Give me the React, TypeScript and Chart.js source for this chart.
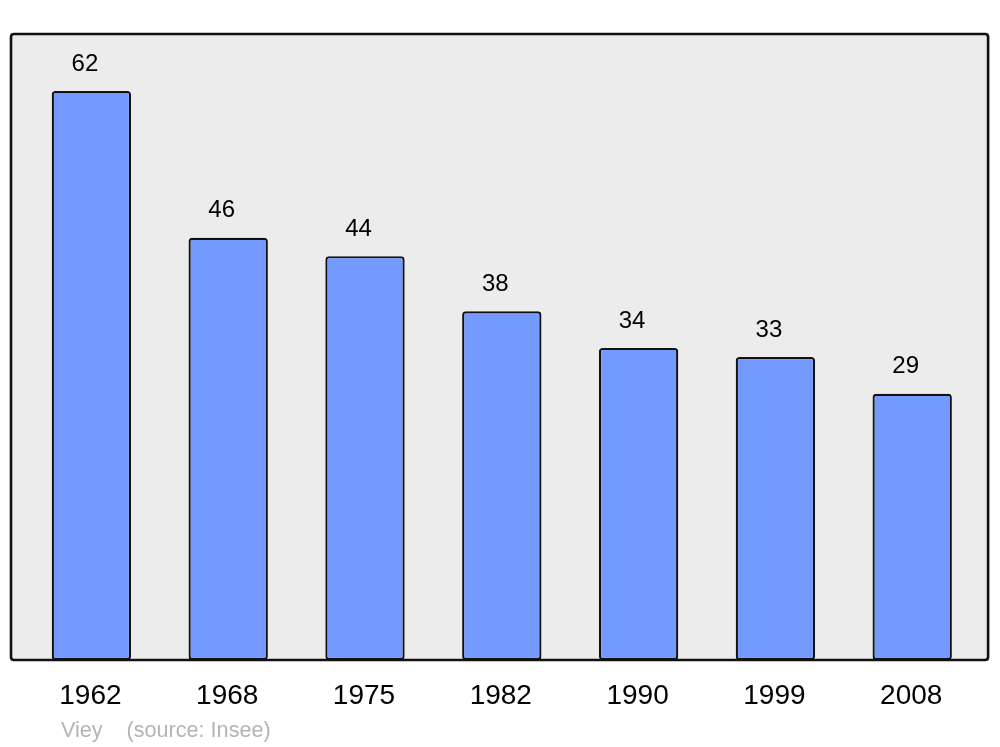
import React, { useEffect, useRef } from "react";
import { Chart, registerables } from "chart.js";

Chart.register(...registerables);

const years = ["1962", "1968", "1975", "1982", "1990", "1999", "2008"];
const population = [62, 46, 44, 38, 34, 33, 29];
const sourceText = "Viey    (source: Insee)";

const FONT = "'Liberation Sans', Arial, sans-serif";

function boxPath(ctx: any, left: number, top: number, right: number, bottom: number, r: number) {
  ctx.beginPath();
  ctx.moveTo(left + r, top);
  ctx.lineTo(right - r, top);
  ctx.quadraticCurveTo(right, top, right, top + r);
  ctx.lineTo(right, bottom - r);
  ctx.quadraticCurveTo(right, bottom, right - r, bottom);
  ctx.lineTo(left + r, bottom);
  ctx.quadraticCurveTo(left, bottom, left, bottom - r);
  ctx.lineTo(left, top + r);
  ctx.quadraticCurveTo(left, top, left + r, top);
  ctx.closePath();
}

const decorPlugin = {
  id: "decor",
  beforeDraw(chart: any) {
    const { ctx, chartArea } = chart;
    ctx.save();
    boxPath(ctx, chartArea.left - 12, chartArea.top, chartArea.right + 7.5, chartArea.bottom, 3);
    ctx.fillStyle = "#ececec";
    ctx.fill();
    ctx.restore();
  },
  afterDatasetsDraw(chart: any) {
    const { ctx, chartArea } = chart;
    const bottom = chartArea.bottom;
    ctx.save();
    boxPath(ctx, chartArea.left - 12, chartArea.top, chartArea.right + 7.5, bottom, 3);
    ctx.lineWidth = 2.6;
    ctx.strokeStyle = "#111";
    ctx.stroke();

    const meta = chart.getDatasetMeta(0);
    ctx.textAlign = "center";
    ctx.textBaseline = "middle";
    ctx.fillStyle = "#000";
    ctx.font = `24px ${FONT}`;
    meta.data.forEach((bar: any, i: number) => {
      ctx.fillText(String(population[i]), bar.x - 6.5, bar.y - 27);
    });
    ctx.font = `28px ${FONT}`;
    meta.data.forEach((bar: any, i: number) => {
      ctx.fillText(years[i], bar.x - 1, bottom + 36);
    });
    ctx.font = `21.6px ${FONT}`;
    ctx.fillStyle = "#b4b4b4";
    ctx.textAlign = "left";
    ctx.fillText(sourceText, 61, bottom + 71);
    ctx.restore();
  },
};

export default function App() {
  const ref = useRef<HTMLCanvasElement>(null);
  useEffect(() => {
    if (!ref.current) return;
    const chart = new Chart(ref.current, {
      type: "bar",
      data: {
        labels: years,
        datasets: [
          {
            data: population,
            backgroundColor: "#7499ff",
            borderColor: "#111",
            borderWidth: 2.2,
            borderRadius: 3.5,
            borderSkipped: false,
            barPercentage: 0.58,
            categoryPercentage: 1,
          },
        ],
      },
      options: {
        responsive: false,
        animation: false,
        layout: { padding: { left: 23, right: 19.4, top: 34, bottom: 87 } },
        plugins: { legend: { display: false }, tooltip: { enabled: false } },
        scales: {
          x: { display: false, offset: true },
          y: { display: false, min: 0, max: 68.2 },
        },
      },
      plugins: [decorPlugin],
    });
    return () => chart.destroy();
  }, []);
  return (
    <div style={{ position: "absolute", left: 0, top: 0, width: 1000, height: 747, background: "#fff" }}>
      <canvas ref={ref} width={1000} height={747} style={{ display: "block" }} />
    </div>
  );
}
